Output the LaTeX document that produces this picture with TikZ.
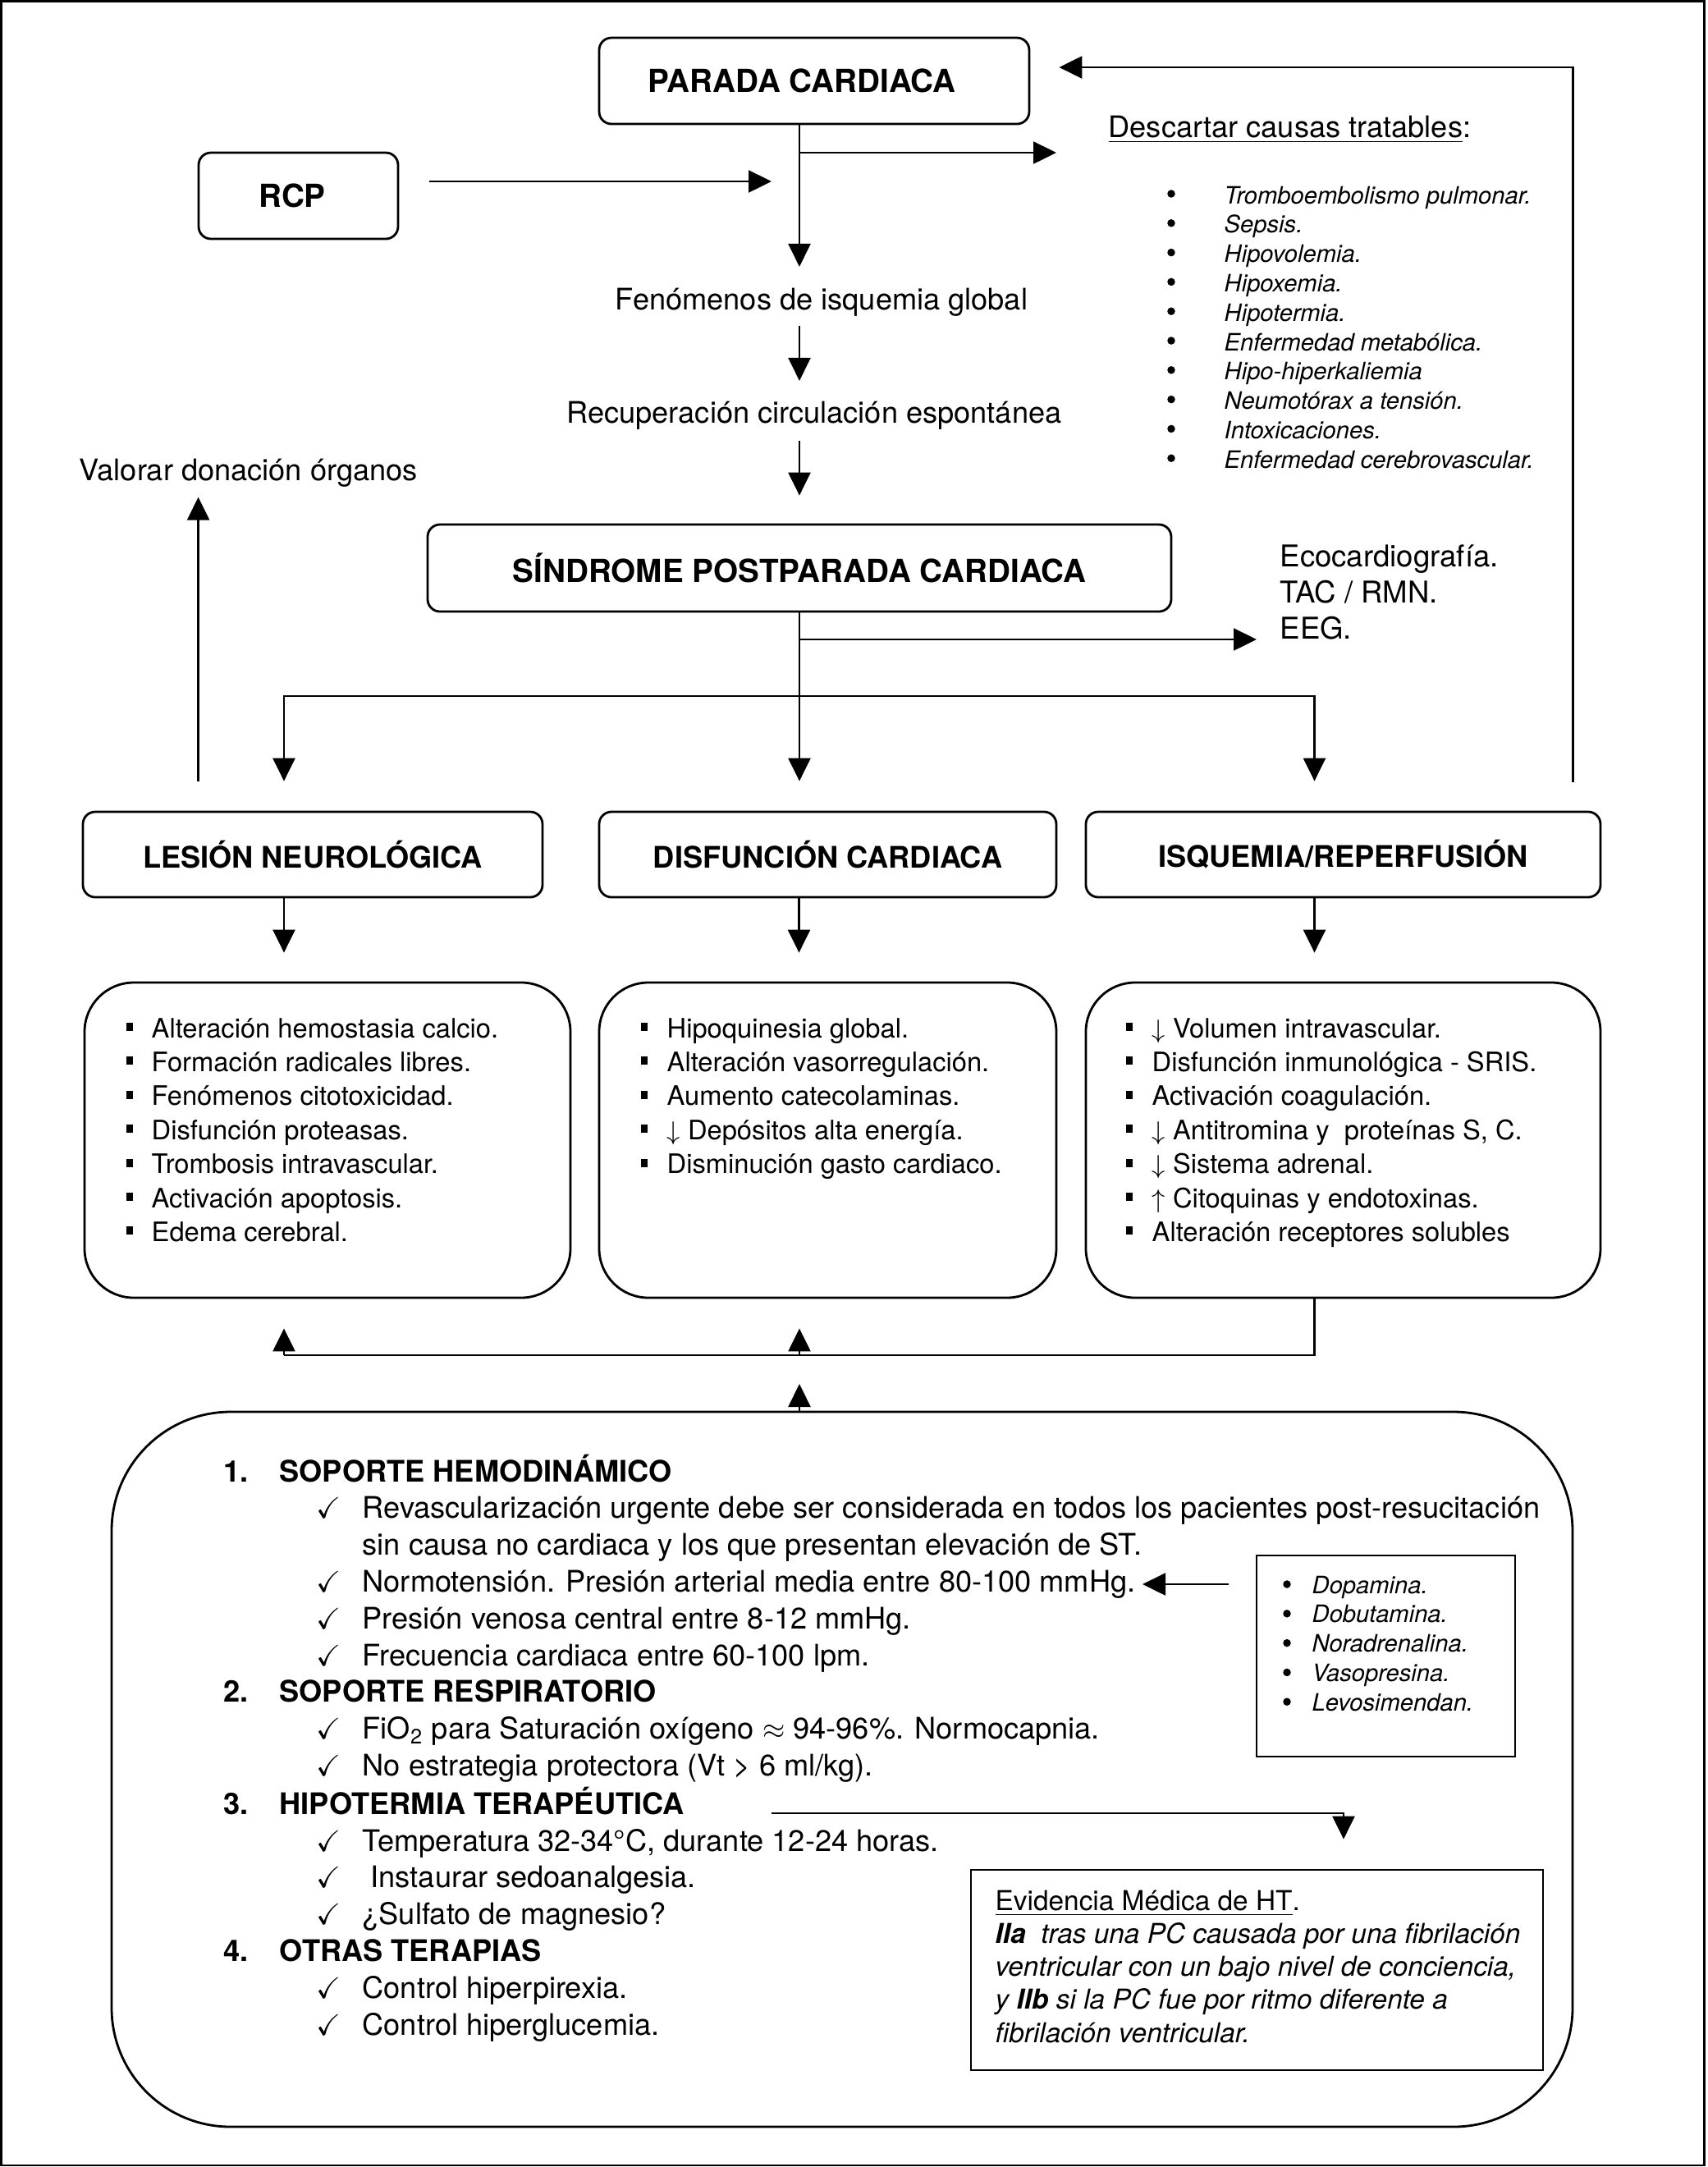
\documentclass[tikz,border=0pt]{standalone}
\usepackage{fontspec}
\usepackage{amssymb}
\setmainfont{TeX Gyre Heros}
\usetikzlibrary{arrows.meta}

\tikzset{
  caja/.style={draw, line width=0.8pt, rounded corners=0.15cm, inner sep=0pt, font=\bfseries\fontsize{11}{13}\selectfont},
  subcaja/.style={caja, font=\bfseries\fontsize{10.3}{12}\selectfont},
  lista/.style={draw, line width=0.8pt, rounded corners=0.6cm, inner sep=0pt, minimum height=3.84cm},
  marco/.style={draw, line width=0.8pt, inner sep=0pt},
  texto/.style={inner sep=0pt, anchor=base, font=\fontsize{10.3}{12}\selectfont},
  causa/.style={inner sep=0pt, anchor=base west, font=\itshape\fontsize{8.3}{10}\selectfont},
  punto/.style={inner sep=0pt, anchor=base west, font=\fontsize{9.3}{11}\selectfont},
  bola/.style={circle, fill, inner sep=0pt, minimum size=0.095cm},
  linea/.style={line width=0.7pt},
  flecha/.style={line width=0.7pt, -{Triangle[length=0.28cm,width=0.27cm]}}
}

\newcommand{\cuadrito}{\rule[0.08cm]{0.08cm}{0.1cm}}

\begin{document}
\begin{tikzpicture}
    \useasboundingbox (0,0) rectangle (20.8,-26.4);
    % Frame
    \draw[linea] (0.015,-0.015) rectangle (20.765,-26.38);

    % Top column
    \node[caja, minimum width=5.24cm, minimum height=1.05cm] (parada) at (9.92,-0.985) {\hspace*{-0.3cm}PARADA CARDIACA};
    \node[caja, minimum width=2.43cm, minimum height=1.05cm] (rcp) at (3.635,-2.385) {\hspace*{-0.15cm}RCP};
    \node[texto] (fen) at (10.01,-3.77) {Fenómenos de isquemia global};
    \node[texto] (recup) at (9.92,-5.15) {Recuperación circulación espontánea};
    \node[caja, minimum width=9.06cm, minimum height=1.06cm] (sindrome) at (9.74,-6.92) {SÍNDROME POSTPARADA CARDIACA};
    \node[texto, anchor=base west] (valorar) at (0.96,-5.85) {Valorar donación órganos};

    % Treatable causes
    \node[texto, anchor=base west] (descartar) at (13.50,-1.67) {\underline{Descartar causas tratables}:};
    \foreach \c [count=\i] in {Tromboembolismo pulmonar., Sepsis., Hipovolemia., Hipoxemia., Hipotermia.,
        Enfermedad metabólica., Hipo-hiperkaliemia, Neumotórax a tensión., Intoxicaciones., Enfermedad cerebrovascular.} {
        \node[bola] (cb\i) at (14.27,{-2.36-0.358*(\i-1)}) {};
        \node[causa] (causa\i) at (14.91,{-2.48-0.358*(\i-1)}) {\c};
    }

    % Tests
    \foreach \e [count=\i] in {Ecocardiografía., TAC / RMN., EEG.}
        \node[texto, anchor=base west, font=\fontsize{10.4}{13}\selectfont] (eco\i) at (15.59,{-6.90-0.44*(\i-1)}) {\e};

    % Junctions
    \coordinate (rama1) at (9.74,-1.86);
    \coordinate (rama2) at (9.74,-7.79);
    \coordinate (rama3) at (9.74,-8.48);
    \coordinate (rama4) at (9.74,-16.51);

    % Top arrows
    \draw[flecha, shorten >=0.25cm] (parada.south -| sindrome) -- (fen.north -| sindrome);
    \draw[flecha, shorten <=0.11cm, shorten >=0.24cm] (fen.south -| sindrome) -- (recup.north -| sindrome);
    \draw[flecha, shorten <=0.13cm, shorten >=0.34cm] (recup.south -| sindrome) -- (sindrome.north);
    \draw[flecha, shorten <=0.37cm, shorten >=0.34cm] ([yshift=1.75mm]rcp.east) -- ([yshift=1.75mm]rcp.east -| sindrome);
    \draw[flecha, shorten >=0.63cm] (rama1) -- (rama1 -| descartar.west);
    \draw[flecha, shorten >=0.28cm] (rama2) -- (rama2 -| eco3.west);

    % Three branches
    \node[subcaja, minimum width=5.60cm, minimum height=1.04cm] (lesion) at (3.81,-10.41) {LESIÓN NEUROLÓGICA};
    \node[subcaja, minimum width=5.57cm, minimum height=1.04cm] (disfuncion) at (10.085,-10.41) {DISFUNCIÓN CARDIACA};
    \node[subcaja, minimum width=6.27cm, minimum height=1.04cm] (isquemia) at (16.365,-10.41) {ISQUEMIA/REPERFUSIÓN};

    \draw[flecha, shorten >=0.36cm] (sindrome.south) -- (sindrome.south |- disfuncion.north);
    \draw[flecha, shorten >=0.36cm] (rama3) -| ([xshift=-0.35cm]lesion.north);
    \draw[flecha, shorten >=0.36cm] (rama3) -| ([xshift=-0.35cm]isquemia.north);
    \draw[flecha, shorten <=0.36cm, shorten >=0.12cm] ([xshift=1.42cm]lesion.north west) -- ([xshift=1.42cm]lesion.north west |- valorar.south);
    \draw[flecha, shorten >=0.35cm] ([xshift=-0.35cm, yshift=0.35cm]isquemia.north east) |- ([yshift=1.65mm]parada.east);

    % Lists
    \node[lista, minimum width=5.92cm] (lesionlista) at (3.99,-13.89) {};
    \node[lista, minimum width=5.57cm] (disflista) at (10.085,-13.89) {};
    \node[lista, minimum width=6.27cm] (isqlista) at (16.365,-13.89) {};

    \foreach \n/\x in {lesion/3.46, disfuncion/9.735, isquemia/16.015}
        \draw[flecha, shorten >=0.35cm] (\x,0 |- \n.south) -- (\x,0 |- lesionlista.north);

    \foreach \t [count=\i] in {Alteración hemostasia calcio., Formación radicales libres., Fenómenos citotoxicidad.,
        Disfunción proteasas., Trombosis intravascular., Activación apoptosis., Edema cerebral.} {
        \node[punto] (lb\i) at (1.53,{-12.64-0.414*(\i-1)}) {\cuadrito};
        \node[punto] (lt\i) at (1.84,{-12.64-0.414*(\i-1)}) {\t};
    }
    \foreach \t [count=\i] in {Hipoquinesia global., Alteración vasorregulación., Aumento catecolaminas.,
        $\downarrow$ Depósitos alta energía., Disminución gasto cardiaco.} {
        \node[punto] (db\i) at (7.80,{-12.64-0.414*(\i-1)}) {\cuadrito};
        \node[punto] (dt\i) at (8.12,{-12.64-0.414*(\i-1)}) {\t};
    }
    \foreach \t [count=\i] in {$\downarrow$ Volumen intravascular., Disfunción inmunológica - SRIS., Activación coagulación.,
        {$\downarrow$ Antitromina y\ \ proteínas S, C.}, $\downarrow$ Sistema adrenal., $\uparrow$ Citoquinas y endotoxinas.,
        Alteración receptores solubles} {
        \node[punto] (ib\i) at (13.71,{-12.64-0.414*(\i-1)}) {\cuadrito};
        \node[punto] (it\i) at (14.03,{-12.64-0.414*(\i-1)}) {\t};
    }

    % Back to the lists
    \draw[linea] ([xshift=-0.35cm]isqlista.south -| isquemia.south) |- ([xshift=-0.35cm]lesion.south |- rama4);
    \draw[flecha, shorten >=0.36cm] ([xshift=-0.35cm]lesion.south |- rama4) -- ([xshift=-0.35cm]lesion.south |- lesionlista.south);
    \draw[flecha, shorten >=0.36cm] (rama4) -- (rama4 |- disflista.south);

    % Therapy box
    \node[lista, rounded corners=1.45cm, minimum width=17.80cm, minimum height=8.71cm] (soporte) at (10.26,-21.555) {};
    \draw[flecha, shorten >=0.35cm] (rama4 |- soporte.north) -- (rama4);

    \node[anchor=base west, inner sep=0pt, font=\fontsize{10.3}{12.75}\selectfont] (terapias) at (2.72,-18.05) {%
      \begin{tabular}[t]{@{}p{0.68cm}@{}p{0.45cm}@{}p{0.56cm}@{}l@{}}
      \textbf{1.} & \multicolumn{3}{@{}l@{}}{\textbf{SOPORTE HEMODINÁMICO}}\\
       & & $\checkmark$ & Revascularización urgente debe ser considerada en todos los pacientes post-resucitación\\
       & & & sin causa no cardiaca y los que presentan elevación de ST.\\
       & & $\checkmark$ & Normotensión. Presión arterial media entre 80-100 mmHg.\\
       & & $\checkmark$ & Presión venosa central entre 8-12 mmHg.\\
       & & $\checkmark$ & Frecuencia cardiaca entre 60-100 lpm.\\
      \textbf{2.} & \multicolumn{3}{@{}l@{}}{\textbf{SOPORTE RESPIRATORIO}}\\
       & & $\checkmark$ & FiO\textsubscript{2} para Saturación oxígeno $\approx$ 94-96\%. Normocapnia.\\
       & & $\checkmark$ & No estrategia protectora (Vt > 6 ml/kg).\\
      \textbf{3.} & \multicolumn{3}{@{}l@{}}{\textbf{HIPOTERMIA TERAPÉUTICA}}\\
       & & $\checkmark$ & Temperatura 32-34°C, durante 12-24 horas.\\
       & & $\checkmark$ & \ Instaurar sedoanalgesia.\\
       & & $\checkmark$ & ¿Sulfato de magnesio?\\
      \textbf{4.} & \multicolumn{3}{@{}l@{}}{\textbf{OTRAS TERAPIAS}}\\
       & & $\checkmark$ & Control hiperpirexia.\\
       & & $\checkmark$ & Control hiperglucemia.
      \end{tabular}};

    % Drugs
    \node[marco, minimum width=3.15cm, minimum height=2.45cm] (farmacos) at (16.885,-20.175) {};
    \foreach \f [count=\i] in {Dopamina., Dobutamina., Noradrenalina., Vasopresina., Levosimendan.} {
        \node[bola] (fb\i) at (15.68,{-19.30-0.358*(\i-1)}) {};
        \node[causa] (farm\i) at (15.98,{-19.41-0.358*(\i-1)}) {\f};
    }
    \coordinate (normo) at (13.92,-19.30);
    \draw[flecha, shorten <=0.33cm] (normo -| farmacos.west) -- (normo);

    % Evidence
    \node[marco, minimum width=6.97cm, minimum height=2.44cm] (evidencia) at (15.315,-24.00) {};
    \foreach \l [count=\i] in {{\upshape\underline{Evidencia Médica de HT}.}, {\textbf{IIa}\ \ tras una PC causada por una fibrilación},
        {ventricular con un bajo nivel de conciencia,}, {y \textbf{IIb} si la PC fue por ritmo diferente a}, {fibrilación ventricular.}}
        \node[causa, font=\itshape\fontsize{9.5}{11.5}\selectfont] (ev\i) at (12.12,{-23.27-0.403*(\i-1)}) {\l};
    \coordinate (hipo) at (9.40,-22.09);
    \draw[flecha, shorten >=0.36cm] (hipo) -| ([xshift=1.055cm]evidencia.north);

\end{tikzpicture}
\end{document}
